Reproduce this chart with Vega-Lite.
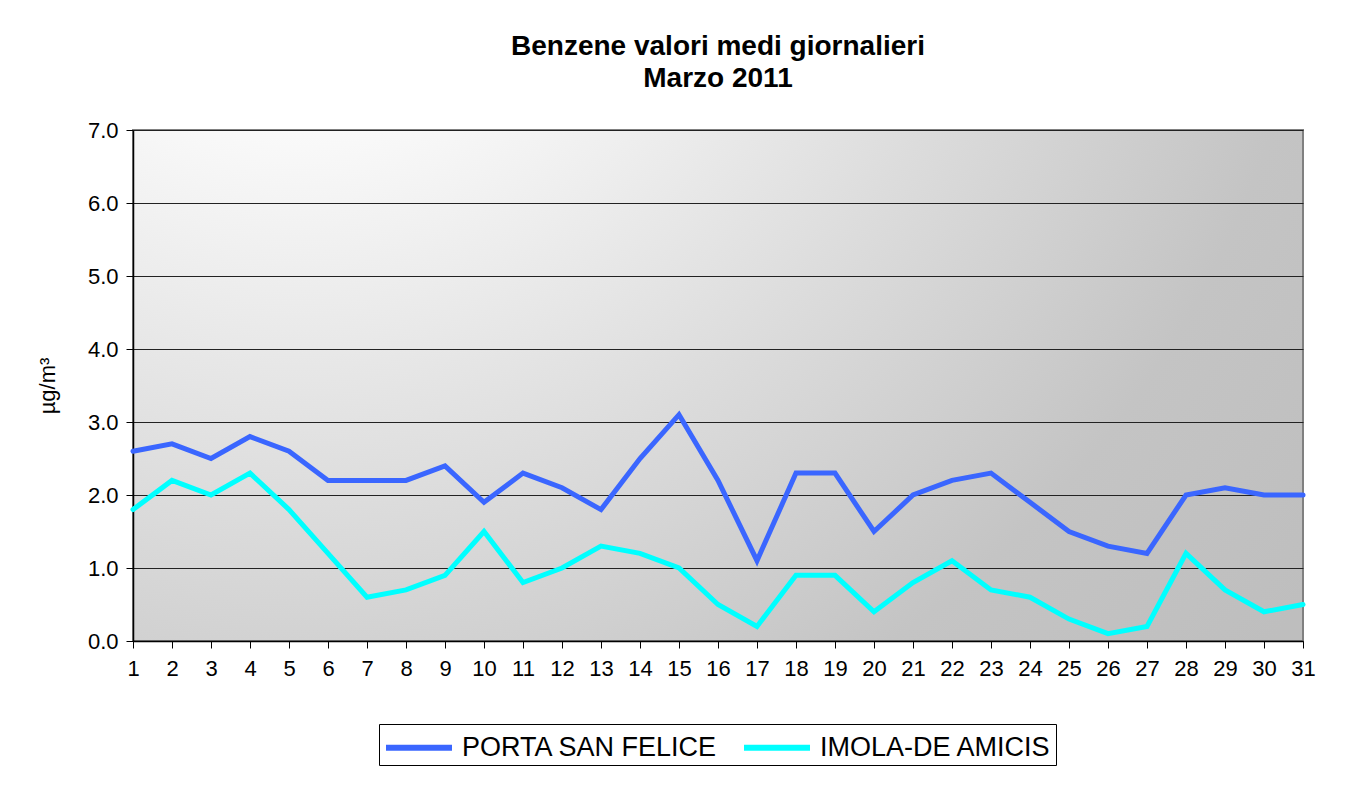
{
  "$schema": "https://vega.github.io/schema/vega-lite/v6.json",
  "width": 1170,
  "height": 511,
  "autosize": {"type": "none"},
  "padding": {"left": 133, "top": 130, "right": 45, "bottom": 149},
  "background": "white",
  "title": {
    "text": ["Benzene valori medi giornalieri", "Marzo 2011"],
    "font": "Liberation Sans",
    "fontSize": 28,
    "fontWeight": "bold",
    "lineHeight": 32,
    "anchor": "middle",
    "offset": 26,
    "color": "black"
  },
  "config": {
    "view": {
      "stroke": "#808080",
      "strokeWidth": 2,
      "fill": {
        "gradient": "radial",
        "x1": 0.14, "y1": 0, "r1": 0,
        "x2": 0.14, "y2": 0, "r2": 1.1,
        "stops": [
          {"offset": 0, "color": "#ffffff"},
          {"offset": 0.25, "color": "#fafafa"},
          {"offset": 0.55, "color": "#dcdcdc"},
          {"offset": 0.8, "color": "#c4c4c4"},
          {"offset": 1, "color": "#bebebe"}
        ]
      }
    },
    "font": "Liberation Sans",
    "axis": {
      "labelFont": "Liberation Sans",
      "labelFontSize": 22,
      "labelColor": "black",
      "domainColor": "black",
      "domainWidth": 1.5,
      "tickColor": "black",
      "tickSize": 7,
      "gridColor": "#222222",
      "gridWidth": 1,
      "gridOpacity": 1
    }
  },
  "data": {
    "values": [
      {"day": 1, "station": "PORTA SAN FELICE", "value": 2.6},
      {"day": 2, "station": "PORTA SAN FELICE", "value": 2.7},
      {"day": 3, "station": "PORTA SAN FELICE", "value": 2.5},
      {"day": 4, "station": "PORTA SAN FELICE", "value": 2.8},
      {"day": 5, "station": "PORTA SAN FELICE", "value": 2.6},
      {"day": 6, "station": "PORTA SAN FELICE", "value": 2.2},
      {"day": 7, "station": "PORTA SAN FELICE", "value": 2.2},
      {"day": 8, "station": "PORTA SAN FELICE", "value": 2.2},
      {"day": 9, "station": "PORTA SAN FELICE", "value": 2.4},
      {"day": 10, "station": "PORTA SAN FELICE", "value": 1.9},
      {"day": 11, "station": "PORTA SAN FELICE", "value": 2.3},
      {"day": 12, "station": "PORTA SAN FELICE", "value": 2.1},
      {"day": 13, "station": "PORTA SAN FELICE", "value": 1.8},
      {"day": 14, "station": "PORTA SAN FELICE", "value": 2.5},
      {"day": 15, "station": "PORTA SAN FELICE", "value": 3.1},
      {"day": 16, "station": "PORTA SAN FELICE", "value": 2.2},
      {"day": 17, "station": "PORTA SAN FELICE", "value": 1.1},
      {"day": 18, "station": "PORTA SAN FELICE", "value": 2.3},
      {"day": 19, "station": "PORTA SAN FELICE", "value": 2.3},
      {"day": 20, "station": "PORTA SAN FELICE", "value": 1.5},
      {"day": 21, "station": "PORTA SAN FELICE", "value": 2.0},
      {"day": 22, "station": "PORTA SAN FELICE", "value": 2.2},
      {"day": 23, "station": "PORTA SAN FELICE", "value": 2.3},
      {"day": 24, "station": "PORTA SAN FELICE", "value": 1.9},
      {"day": 25, "station": "PORTA SAN FELICE", "value": 1.5},
      {"day": 26, "station": "PORTA SAN FELICE", "value": 1.3},
      {"day": 27, "station": "PORTA SAN FELICE", "value": 1.2},
      {"day": 28, "station": "PORTA SAN FELICE", "value": 2.0},
      {"day": 29, "station": "PORTA SAN FELICE", "value": 2.1},
      {"day": 30, "station": "PORTA SAN FELICE", "value": 2.0},
      {"day": 31, "station": "PORTA SAN FELICE", "value": 2.0},
      {"day": 1, "station": "IMOLA-DE AMICIS", "value": 1.8},
      {"day": 2, "station": "IMOLA-DE AMICIS", "value": 2.2},
      {"day": 3, "station": "IMOLA-DE AMICIS", "value": 2.0},
      {"day": 4, "station": "IMOLA-DE AMICIS", "value": 2.3},
      {"day": 5, "station": "IMOLA-DE AMICIS", "value": 1.8},
      {"day": 6, "station": "IMOLA-DE AMICIS", "value": 1.2},
      {"day": 7, "station": "IMOLA-DE AMICIS", "value": 0.6},
      {"day": 8, "station": "IMOLA-DE AMICIS", "value": 0.7},
      {"day": 9, "station": "IMOLA-DE AMICIS", "value": 0.9},
      {"day": 10, "station": "IMOLA-DE AMICIS", "value": 1.5},
      {"day": 11, "station": "IMOLA-DE AMICIS", "value": 0.8},
      {"day": 12, "station": "IMOLA-DE AMICIS", "value": 1.0},
      {"day": 13, "station": "IMOLA-DE AMICIS", "value": 1.3},
      {"day": 14, "station": "IMOLA-DE AMICIS", "value": 1.2},
      {"day": 15, "station": "IMOLA-DE AMICIS", "value": 1.0},
      {"day": 16, "station": "IMOLA-DE AMICIS", "value": 0.5},
      {"day": 17, "station": "IMOLA-DE AMICIS", "value": 0.2},
      {"day": 18, "station": "IMOLA-DE AMICIS", "value": 0.9},
      {"day": 19, "station": "IMOLA-DE AMICIS", "value": 0.9},
      {"day": 20, "station": "IMOLA-DE AMICIS", "value": 0.4},
      {"day": 21, "station": "IMOLA-DE AMICIS", "value": 0.8},
      {"day": 22, "station": "IMOLA-DE AMICIS", "value": 1.1},
      {"day": 23, "station": "IMOLA-DE AMICIS", "value": 0.7},
      {"day": 24, "station": "IMOLA-DE AMICIS", "value": 0.6},
      {"day": 25, "station": "IMOLA-DE AMICIS", "value": 0.3},
      {"day": 26, "station": "IMOLA-DE AMICIS", "value": 0.1},
      {"day": 27, "station": "IMOLA-DE AMICIS", "value": 0.2},
      {"day": 28, "station": "IMOLA-DE AMICIS", "value": 1.2},
      {"day": 29, "station": "IMOLA-DE AMICIS", "value": 0.7},
      {"day": 30, "station": "IMOLA-DE AMICIS", "value": 0.4},
      {"day": 31, "station": "IMOLA-DE AMICIS", "value": 0.5}
    ]
  },
  "mark": {"type": "line", "strokeWidth": 5, "strokeJoin": "miter", "strokeCap": "round"},
  "encoding": {
    "x": {
      "field": "day",
      "type": "quantitative",
      "scale": {"domain": [1, 31], "nice": false, "zero": false},
      "axis": {
        "title": null,
        "values": [1,2,3,4,5,6,7,8,9,10,11,12,13,14,15,16,17,18,19,20,21,22,23,24,25,26,27,28,29,30,31],
        "format": "d",
        "grid": false,
        "labelPadding": 10,
        "labelFlush": false,
        "labelOverlap": false
      }
    },
    "y": {
      "field": "value",
      "type": "quantitative",
      "scale": {"domain": [0, 7], "nice": false},
      "axis": {
        "title": "µg/m³",
        "titleFont": "Liberation Sans",
        "titleFontSize": 22,
        "titleFontWeight": "normal",
        "titleColor": "black",
        "titlePadding": 28,
        "values": [0,1,2,3,4,5,6,7],
        "format": ".1f",
        "grid": true,
        "labelPadding": 8,
        "labelFlush": false
      }
    },
    "color": {
      "field": "station",
      "type": "nominal",
      "scale": {"domain": ["PORTA SAN FELICE", "IMOLA-DE AMICIS"], "range": ["#3a66ff", "#00ffff"]},
      "legend": {
        "title": null,
        "orient": "none",
        "legendX": 246,
        "legendY": 594,
        "direction": "horizontal",
        "symbolType": "M-1,0H3",
        "symbolSize": 1089,
        "symbolStrokeWidth": 6,
        "symbolFillColor": "transparent",
        "labelFont": "Liberation Sans",
        "labelFontSize": 27,
        "labelColor": "black",
        "labelLimit": 400,
        "labelOffset": 40,
        "columnPadding": 14,
        "strokeColor": "black",
        "fillColor": "white",
        "padding": 4
      }
    }
  }
}
